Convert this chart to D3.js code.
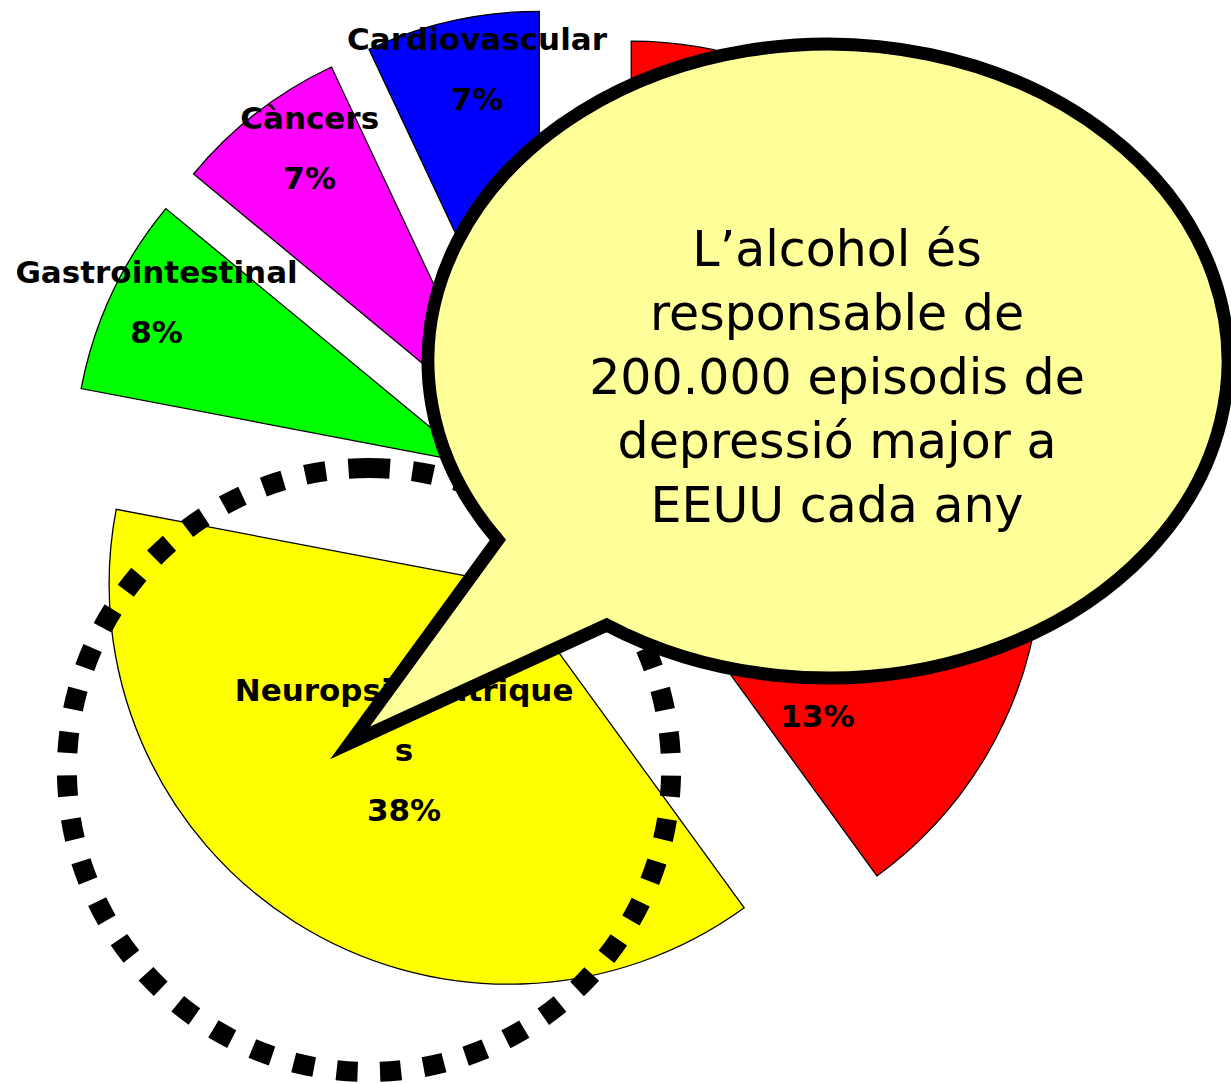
<!DOCTYPE html>
<html>
<head>
<meta charset="utf-8">
<title>Alcohol</title>
<script src="https://cdn.jsdelivr.net/npm/d3@7"></script>
<style>
  body { margin: 0; background: #fff; }
  svg { display: block; }
  .lbl { font-family: "Comic Sans MS", "DejaVu Sans", sans-serif; font-weight: bold; font-size: 31px; fill: #000; }
  .bubble { font-family: "Comic Sans MS", "DejaVu Sans", sans-serif; font-size: 49px; fill: #000; }
</style>
</head>
<body>
<script>
// dades del pastis (sentit horari des de les 12)
var categories = ["", "", "Neuropsiquiatriques", "Gastrointestinal", "Càncers", "Cardiovascular"];
var values = [27, 13, 38, 8, 7, 7];
var colors = ["#ff0000", "#ff0000", "#ffff00", "#00ff00", "#ff00ff", "#0000ff"];
// com es parteix cada etiqueta en linies (null = tapada per la bafarada)
var labelLines = [null, ["", ""], ["Neuropsiquiatrique", "s"], ["Gastrointestinal"], ["Càncers"], ["Cardiovascular"]];
var labelK = [0.87, 0.51, 0.49, 0.89, 0.85, 0.87];
var labelShift = [0, 0, 0, 1.7, 3.4, 2.3]; // graus
var calloutLines = ["L’alcohol és", "responsable de", "200.000 episodis de", "depressió major a", "EEUU cada any"];

var width = 1231, height = 1084;
var R = 400, explode = 95;
var cx = 560, cy = 504;

var svg = d3.select("body").append("svg").attr("width", width).attr("height", height);

var pie = d3.pie().sort(null).value(function(d){ return d; }).startAngle(0).endAngle(2 * Math.PI);
var arc = d3.arc().innerRadius(0).outerRadius(R);
var arcs = pie(values);

function offset(d) {
  var m = (d.startAngle + d.endAngle) / 2;
  return [cx + explode * Math.sin(m), cy - explode * Math.cos(m)];
}

// porcions
svg.append("g").selectAll("path")
  .data(arcs)
  .enter().append("path")
  .attr("transform", function(d){ var o = offset(d); return "translate(" + o[0] + "," + o[1] + ")"; })
  .attr("d", arc)
  .attr("fill", function(d, i){ return colors[i]; })
  .attr("stroke", "#000")
  .attr("stroke-width", 1.3);

// etiquetes
var lineH = 60;
var lg = svg.append("g");
arcs.forEach(function(d, i){
  if (!labelLines[i]) return;
  var o = offset(d);
  var m = (d.startAngle + d.endAngle) / 2 + labelShift[i] * Math.PI / 180;
  var px = o[0] + Math.sin(m) * R * labelK[i];
  var py = o[1] - Math.cos(m) * R * labelK[i];
  var lines = labelLines[i].concat([Math.round(values[i]) + "%"]);
  var y0 = py - (lines.length - 1) * lineH / 2;
  lines.forEach(function(t, j){
    if (!t) return;
    lg.append("text").attr("class", "lbl")
      .attr("x", px).attr("y", y0 + j * lineH)
      .attr("text-anchor", "middle").attr("dominant-baseline", "central")
      .text(t);
  });
});

// cercle puntejat
var ccx = 369, ccy = 770, cr = 302;
var circ = 2 * Math.PI * cr, dash = 21, nDash = 44;
var gap = (circ - nDash * dash) / (nDash - 1);
svg.append("path")
  .attr("d", "M" + ccx + "," + (ccy - cr) + " A" + cr + "," + cr + " 0 1 1 " + ccx + "," + (ccy + cr) +
             " A" + cr + "," + cr + " 0 1 1 " + ccx + "," + (ccy - cr))
  .attr("fill", "none")
  .attr("stroke", "#000")
  .attr("stroke-width", 20)
  .attr("stroke-dasharray", dash + "," + gap);

// bafarada
var ex = 828, ey = 361, rx = 400, ry = 317;
function onEllipseLeft(y) { var t = (y - ey) / ry; return [ex - rx * Math.sqrt(1 - t * t), y]; }
var pa = onEllipseLeft(540), pb = onEllipseLeft(625), tip = [350, 743];
svg.append("path")
  .attr("d", "M" + pa + " L" + tip + " L" + pb + " A" + rx + "," + ry + " 0 1 0 " + pa + " Z")
  .attr("fill", "#ffff99")
  .attr("stroke", "#000")
  .attr("stroke-width", 13)
  .attr("stroke-linejoin", "miter");

var bt = svg.append("g");
calloutLines.forEach(function(t, j){
  bt.append("text").attr("class", "bubble")
    .attr("x", 837).attr("y", 249 + j * 64)
    .attr("text-anchor", "middle").attr("dominant-baseline", "central")
    .text(t);
});
</script>
</body>
</html>
